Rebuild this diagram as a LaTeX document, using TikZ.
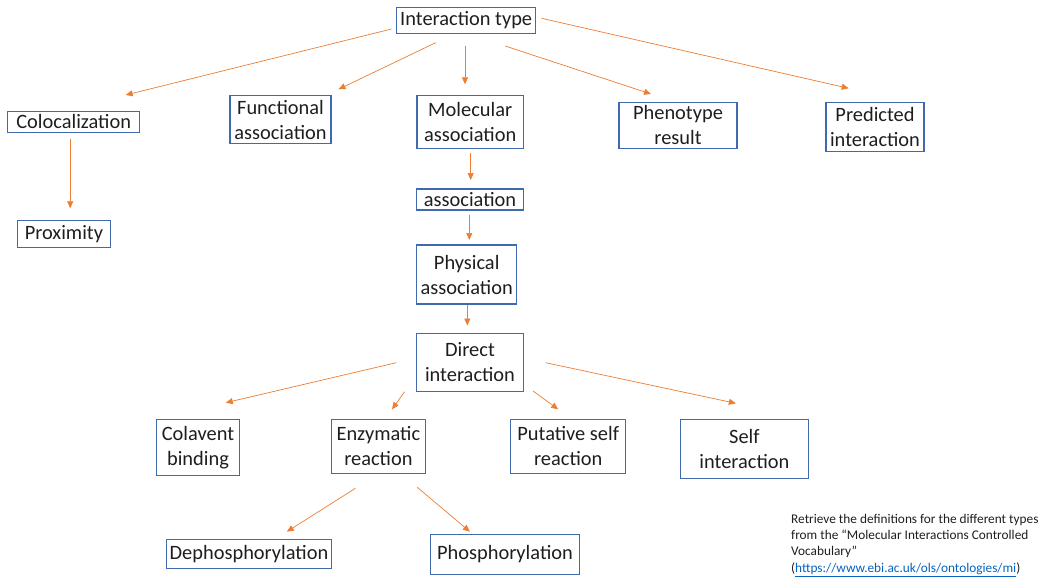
\documentclass[tikz,border=0pt]{standalone}
\usepackage{fontspec}
\setmainfont{Carlito}
\usetikzlibrary{arrows.meta}
\definecolor{boxblue}{HTML}{4169AE}
\definecolor{arrorange}{HTML}{ED7D31}
\definecolor{linkblue}{HTML}{0563C1}
\definecolor{textdark}{HTML}{1E1E1E}
\begin{document}
\begin{tikzpicture}[x=1pt,y=-1pt,
  box/.style={draw=boxblue, line width=1.05pt, align=center, inner sep=0pt,
    font=\fontsize{20.4}{25}\selectfont, text=textdark},
  arr/.style={draw=arrorange, line width=0.7pt, -{Triangle[length=7pt,width=6pt]}}]
\useasboundingbox (0,0) rectangle (1044,576);

% nodes
\node[box, minimum width=138.5, minimum height=26.4] (it) at (466.2,20.5) {Interaction type};
\node[box, minimum width=132.2, minimum height=21.7] (coloc) at (73.7,121.9) {Colocalization};
\node[box, minimum width=93.3, minimum height=27.4] (prox) at (63.9,234) {Proximity};
\node[box, minimum width=101, minimum height=48] (func) at (280.5,119.7) {Functional\\association};
\node[box, minimum width=106.4, minimum height=52.6] (mol) at (470.2,122) {Molecular\\association};
\node[box, minimum width=118, minimum height=46] (phen) at (678,125.3) {Phenotype\\result};
\node[box, minimum width=98, minimum height=49.4] (pred) at (875,127) {Predicted\\interaction};
\node[box, minimum width=106.6, minimum height=21] (assoc) at (470,199.5) {association};
\node[box, minimum width=100, minimum height=59] (phys) at (466.7,274.5) {Physical\\association};
\node[box, minimum width=106.6, minimum height=58.4] (direct) at (470,362.5) {Direct\\interaction};
\node[box, minimum width=83.3, minimum height=56] (colav) at (198,447.3) {Colavent\\binding};
\node[box, minimum width=94.7, minimum height=54] (enz) at (378.4,446.3) {Enzymatic\\reaction};
\node[box, minimum width=115, minimum height=54] (put) at (568.2,446.3) {Putative self\\reaction};
\node[box, minimum width=128.7, minimum height=59] (self) at (744.4,448.8) {Self\\interaction};
\node[box, minimum width=164.2, minimum height=29] (dephos) at (249,553.8) {Dephosphorylation};
\node[box, minimum width=148.6, minimum height=40.3] (phos) at (505,554.2) {Phosphorylation};

% note
\node[anchor=north west, align=left, inner sep=0pt, text=textdark,
  font=\fontsize{13.3}{16.2}\selectfont] (note) at (791,514)
  {Retrieve the definitions for the different types\\
   from the “Molecular Interactions Controlled\\
   Vocabulary”\\
   (\textcolor{linkblue}{\underline{https://www.ebi.ac.uk/ols/ontologies/mi}})};

% connector end points
\coordinate (s1) at (391.5,29);   \coordinate (e1) at (125.7,95);
\coordinate (s2) at (435.6,42.7); \coordinate (e2) at (338.5,89.3);
\coordinate (s3) at (465,46);     \coordinate (e3) at (465,84.3);
\coordinate (s4) at (505.2,46);   \coordinate (e4) at (651,94);
\coordinate (s5) at (541.6,18.3); \coordinate (e5) at (848.7,88.3);
\coordinate (s6) at (70.2,139);   \coordinate (e6) at (70.2,208.3);
\coordinate (s7) at (470.7,153.3); \coordinate (e7) at (470.7,180);
\coordinate (s8) at (469.3,215);  \coordinate (e8) at (469.3,240);
\coordinate (s9) at (467.3,305);  \coordinate (e9) at (467.3,325.5);
\coordinate (s10) at (396.2,362.7); \coordinate (e10) at (225.8,402.7);
\coordinate (s11) at (404.6,391.7); \coordinate (e11) at (392,409.3);
\coordinate (s12) at (533,391);   \coordinate (e12) at (558.2,409.3);
\coordinate (s13) at (545.6,362.7); \coordinate (e13) at (735.9,403.3);
\coordinate (s14) at (355.4,488.3); \coordinate (e14) at (286.8,531.7);
\coordinate (s15) at (417.3,487.3); \coordinate (e15) at (469.9,531.7);

\foreach \i in {1,...,15} { \draw[arr] (s\i) -- (e\i); }
\end{tikzpicture}
\end{document}
